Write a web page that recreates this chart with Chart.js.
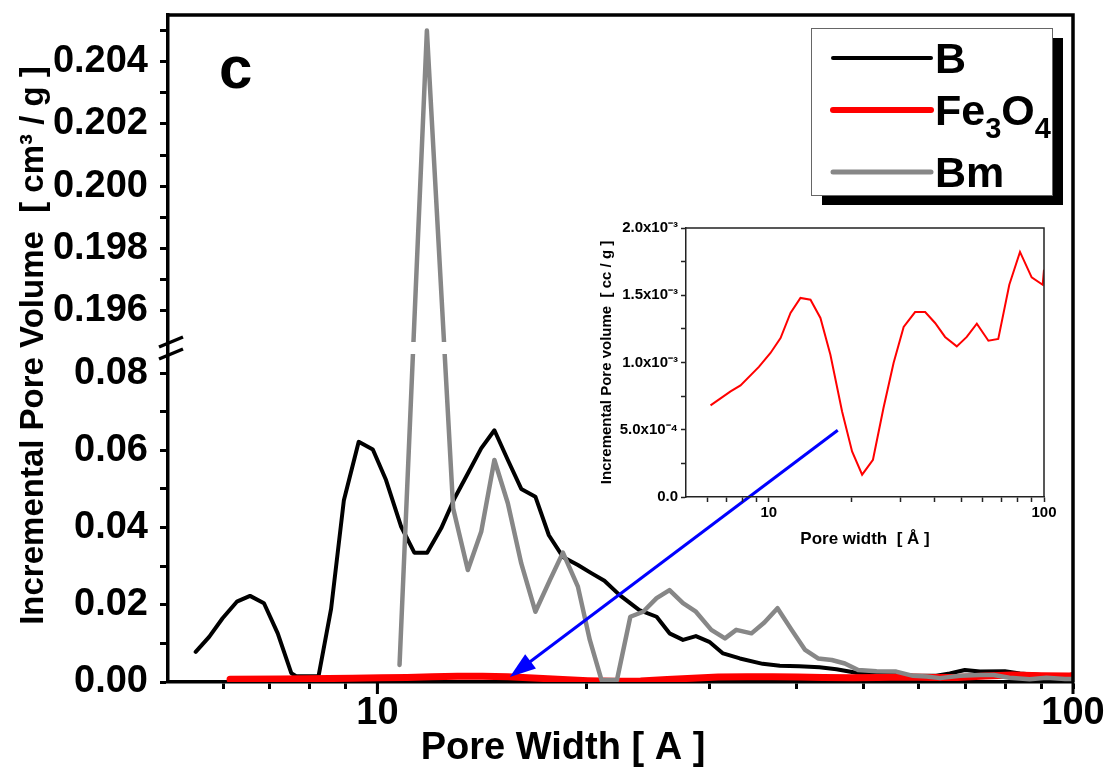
<!DOCTYPE html>
<html>
<head>
<meta charset="utf-8">
<script src="https://cdn.jsdelivr.net/npm/chart.js@4.4.1/dist/chart.umd.min.js"></script>
<style>
  html, body { margin: 0; padding: 0; background: #fff; }
  #wrap { position: relative; width: 1115px; height: 767px; }
  #mainBox { position: absolute; left: 0; top: 0; width: 1115px; height: 767px; }
  #insetBox { position: absolute; left: 590px; top: 215px; width: 480px; height: 345px; }
</style>
</head>
<body>
<div id="wrap">
  <div id="mainBox"><canvas id="main"></canvas></div>
  <div id="insetBox"><canvas id="inset"></canvas></div>
</div>
<script>
// pore widths (A) and incremental pore volumes (cm3/g)
const widthB = [5.48, 5.73, 5.99, 6.28, 6.56, 6.87, 7.19, 7.52, 7.64, 8.23, 8.58, 8.95, 9.40, 9.85, 10.29, 10.82, 11.30, 11.79, 12.35, 12.91,
  13.49, 14.10, 14.73, 15.40, 16.10, 16.87, 17.64, 18.48, 19.42, 20.3, 21.2, 22.3, 23.8, 25.2, 26.3, 27.5, 28.7, 30.0, 31.4, 33.2,
  35.8, 37.9, 40.4, 43.2, 45.7, 48.8, 52.2, 55.1, 58.9, 63.6, 66.5, 69.9, 73.5, 79.8, 83.9, 89.7, 97.4, 100];
const volB = [0.0078, 0.0117, 0.0165, 0.0208, 0.0223, 0.0204, 0.0126, 0.0023, 0.0015, 0.0015, 0.019, 0.0471, 0.0622, 0.0602, 0.0523, 0.0402, 0.0335, 0.0335, 0.0398, 0.0476,
  0.054, 0.0605, 0.0652, 0.0575, 0.050, 0.048, 0.038, 0.0324, 0.0303, 0.0282, 0.0262, 0.0225, 0.0186, 0.0169, 0.0126, 0.0109, 0.0119, 0.0104, 0.0074, 0.0061,
  0.0047, 0.0042, 0.0041, 0.0038, 0.0033, 0.0024, 0.0022, 0.0021, 0.0016, 0.0016, 0.0022, 0.0031, 0.0027, 0.0028, 0.0022, 0.0018, 0.0016, 0.0015];

const widthBm = [10.76, 11.78, 12.85, 13.49, 14.10, 14.73, 15.40, 16.10, 16.87, 17.7, 18.48, 19.42, 20.2, 21.0, 22.1, 23.1, 24.1, 25.2, 26.3, 27.5,
  28.7, 30.2, 31.6, 32.8, 34.5, 36.0, 37.6, 39.4, 41.2, 43.0, 45.0, 47.0, 49.1, 52.2, 55.7, 58.9, 61.6, 64.4, 68.8, 73.5,
  76.9, 81.0, 86.6, 91.6, 97.4, 100];
const volBm = [0.0044, 0.2050, 0.0450, 0.029, 0.0389, 0.0575, 0.0463, 0.0307, 0.0182, 0.0264, 0.0335, 0.0247, 0.0109, 0.0005, 0.0005, 0.0169, 0.0182, 0.0217, 0.0238, 0.0204,
  0.0182, 0.0135, 0.0113, 0.0135, 0.0126, 0.0154, 0.0191, 0.0135, 0.0083, 0.0061, 0.0057, 0.0048, 0.0031, 0.0028, 0.0027, 0.0016, 0.0014, 0.0010, 0.0016, 0.0018,
  0.0018, 0.0011, 0.0007, 0.0011, 0.0008, 0.0008];

const widthFe = [6.14, 7.26, 7.89, 9.20, 10.14, 11.03, 11.99, 13.03, 14.17, 15.40, 16.74, 18.46, 20.07, 21.83, 23.9, 26.1, 28.4, 30.9, 34.0, 37.0,
  40.2, 43.7, 48.2, 52.4, 57.0, 62.8, 68.2, 74.8, 81.8, 90.2, 98.9, 100];
const volFe = [0.681e-3, 0.785e-3, 0.830e-3, 0.967e-3, 1.071e-3, 1.182e-3, 1.368e-3, 1.480e-3, 1.467e-3, 1.331e-3, 1.058e-3, 0.636e-3, 0.339e-3, 0.166e-3, 0.277e-3, 0.662e-3, 0.996e-3, 1.264e-3, 1.375e-3, 1.375e-3,
  1.294e-3, 1.190e-3, 1.120e-3, 1.190e-3, 1.288e-3, 1.162e-3, 1.175e-3, 1.578e-3, 1.822e-3, 1.633e-3, 1.578e-3, 1.690e-3];

// ticks and labels
const xTicks = [6, 7, 8, 9, 10, 20, 30, 40, 50, 60, 70, 80, 90, 100];
const xLabels = ['', '', '', '', '10', '', '', '', '', '', '', '', '', '100'];
const yLowTicks = [0, 0.01, 0.02, 0.03, 0.04, 0.05, 0.06, 0.07, 0.08];
const yLowLabels = ['0.00', '', '0.02', '', '0.04', '', '0.06', '', '0.08'];
const yHighTicks = [0.196, 0.197, 0.198, 0.199, 0.200, 0.201, 0.202, 0.203, 0.204, 0.205];
const yHighLabels = ['0.196', '', '0.198', '', '0.200', '', '0.202', '', '0.204', ''];
const insetYTicks = [0, 0.00025, 0.0005, 0.00075, 0.001, 0.00125, 0.0015, 0.00175, 0.002];
const insetYLabels = ['0.0', '', '5.0x10⁻⁴', '', '1.0x10⁻³', '', '1.5x10⁻³', '', '2.0x10⁻³'];

// broken y axis: 0 .. 0.0865 in the lower half, 0.1948 .. 0.2055 in the upper half
const yBreak = { min: 0, lowMax: 0.0865, highMin: 0.1948, max: 0.2055, lowShare: 334 / 667 };

// arrow from the inset down to the Fe3O4 curve (in main chart data units)
const arrowFrom = [45.9, 0.0652];
const arrowTo = [15.5, 0.0013];

const FONT = "'Liberation Sans', Arial, Helvetica, sans-serif";
Chart.defaults.font.family = FONT;
Chart.defaults.color = '#000';

// linear scale with an axis break; straight segments are drawn between mapped points
class BrokenLinearScale extends Chart.LinearScale {
  splitPixel() {
    return this.bottom - (this.bottom - this.top) * yBreak.lowShare;
  }
  getPixelForValue(value) {
    const split = this.splitPixel();
    if (value <= yBreak.lowMax) {
      return this.bottom - (value - yBreak.min) / (yBreak.lowMax - yBreak.min) * (this.bottom - split);
    }
    const v = Math.max(value, yBreak.highMin);
    return split - (v - yBreak.highMin) / (yBreak.max - yBreak.highMin) * (split - this.top);
  }
  getValueForPixel(pixel) {
    const split = this.splitPixel();
    if (pixel >= split) {
      return yBreak.min + (this.bottom - pixel) / (this.bottom - split) * (yBreak.lowMax - yBreak.min);
    }
    return yBreak.highMin + (split - pixel) / (split - this.top) * (yBreak.max - yBreak.highMin);
  }
}
BrokenLinearScale.id = 'brokenLinear';
BrokenLinearScale.defaults = Chart.LinearScale.defaults;
Chart.register(BrokenLinearScale);

function pts(xs, ys) {
  return xs.map((x, i) => ({ x: x, y: ys[i] }));
}

// draws text where unicode subscript digits are drawn smaller and lowered
function drawRich(ctx, text, x, y, size) {
  for (const ch of text) {
    const code = ch.codePointAt(0);
    if (code >= 0x2080 && code <= 0x2089) {
      const d = String(code - 0x2080);
      ctx.font = 'bold ' + Math.round(size * 0.68) + 'px ' + FONT;
      ctx.fillText(d, x, y + size * 0.3);
      x += ctx.measureText(d).width;
    } else {
      ctx.font = 'bold ' + size + 'px ' + FONT;
      ctx.fillText(ch, x, y);
      x += ctx.measureText(ch).width;
    }
  }
}

const mainDeco = {
  id: 'mainDeco',
  beforeDatasetDraw(chart) {
    // leave a small gap in the curves where the axis is broken
    const a = chart.chartArea;
    const split = chart.scales.y.splitPixel();
    const ctx = chart.ctx;
    ctx.save();
    ctx.beginPath();
    ctx.rect(a.left, a.top - 8, a.right - a.left, split - 6 - (a.top - 8));
    ctx.rect(a.left, split + 6, a.right - a.left, a.bottom + 8 - (split + 6));
    ctx.clip();
  },
  afterDatasetDraw(chart) {
    chart.ctx.restore();
  },
  afterDraw(chart) {
    const ctx = chart.ctx;
    const a = chart.chartArea;
    const xs = chart.scales.x;
    const ys = chart.scales.y;
    ctx.save();

    // top and right frame
    ctx.strokeStyle = '#000';
    ctx.lineWidth = 3.5;
    ctx.beginPath();
    ctx.moveTo(a.left - 1.5, a.top);
    ctx.lineTo(a.right, a.top);
    ctx.lineTo(a.right, a.bottom);
    ctx.stroke();

    // longer major ticks on x
    ctx.lineWidth = 3;
    ctx.beginPath();
    [10, 100].forEach(v => {
      const px = xs.getPixelForValue(v);
      ctx.moveTo(px, a.bottom);
      ctx.lineTo(px, a.bottom + 12);
    });
    ctx.stroke();

    // axis break marks
    const yb = ys.splitPixel();
    ctx.lineWidth = 3.5;
    ctx.beginPath();
    [-6, 6].forEach(d => {
      ctx.moveTo(a.left - 9, yb + d + 5);
      ctx.lineTo(a.left + 15, yb + d - 5);
    });
    ctx.stroke();

    // axis titles
    ctx.fillStyle = '#000';
    ctx.save();
    ctx.translate(34, (a.top + a.bottom) / 2 - 3);
    ctx.rotate(-Math.PI / 2);
    ctx.textAlign = 'center';
    ctx.textBaseline = 'middle';
    ctx.font = 'bold 33px ' + FONT;
    ctx.fillText('Incremental Pore Volume  [ cm³ / g ]', 0, 0);
    ctx.restore();

    ctx.textAlign = 'center';
    ctx.textBaseline = 'alphabetic';
    ctx.font = 'bold 38px ' + FONT;
    ctx.fillText('Pore Width [ A ]', 563, 759);

    // panel letter
    ctx.textAlign = 'left';
    ctx.font = 'bold 60px ' + FONT;
    ctx.fillText('c', 219, 88);

    // legend box with shadow
    const lg = { x: 811, y: 28, w: 241, h: 167 };
    ctx.fillStyle = '#000';
    ctx.fillRect(lg.x + 11, lg.y + 10, lg.w, lg.h);
    ctx.fillStyle = '#fff';
    ctx.fillRect(lg.x, lg.y, lg.w, lg.h);
    ctx.strokeStyle = '#666';
    ctx.lineWidth = 1;
    ctx.strokeRect(lg.x + 0.5, lg.y + 0.5, lg.w, lg.h);
    const rows = [58, 110, 172];
    chart.data.datasets.forEach((d, i) => {
      ctx.strokeStyle = d.borderColor;
      ctx.lineWidth = d.legendWidth;
      ctx.lineCap = 'round';
      ctx.beginPath();
      ctx.moveTo(833, rows[i]);
      ctx.lineTo(931, rows[i]);
      ctx.stroke();
      ctx.fillStyle = '#000';
      ctx.textBaseline = 'alphabetic';
      drawRich(ctx, d.label, 935, rows[i] + 15, 43);
    });

    // arrow
    const x0 = xs.getPixelForValue(arrowFrom[0]), y0 = ys.getPixelForValue(arrowFrom[1]);
    const x1 = xs.getPixelForValue(arrowTo[0]), y1 = ys.getPixelForValue(arrowTo[1]);
    const ang = Math.atan2(y1 - y0, x1 - x0);
    const hl = 26, hw = 9;
    ctx.strokeStyle = '#0000ff';
    ctx.fillStyle = '#0000ff';
    ctx.lineWidth = 3;
    ctx.lineCap = 'butt';
    ctx.beginPath();
    ctx.moveTo(x0, y0);
    ctx.lineTo(x1 - Math.cos(ang) * hl * 0.8, y1 - Math.sin(ang) * hl * 0.8);
    ctx.stroke();
    ctx.beginPath();
    ctx.moveTo(x1, y1);
    ctx.lineTo(x1 - Math.cos(ang) * hl - Math.sin(ang) * hw, y1 - Math.sin(ang) * hl + Math.cos(ang) * hw);
    ctx.lineTo(x1 - Math.cos(ang) * hl + Math.sin(ang) * hw, y1 - Math.sin(ang) * hl - Math.cos(ang) * hw);
    ctx.closePath();
    ctx.fill();

    ctx.restore();
  }
};

const mainGrid = { drawOnChartArea: false, drawTicks: true, tickLength: 8, tickWidth: 3, tickColor: '#000' };
const mainBorder = { display: true, color: '#000', width: 3.5 };

window.mainChart = new Chart(document.getElementById('main'), {
  type: 'line',
  data: {
    datasets: [
      { label: 'B', data: pts(widthB, volB), borderColor: '#000000', borderWidth: 4, legendWidth: 4, order: 3 },
      { label: 'Fe₃O₄', data: pts(widthFe, volFe), borderColor: '#ff0000', borderWidth: 7, legendWidth: 6, order: 2 },
      { label: 'Bm', data: pts(widthBm, volBm), borderColor: '#878787', borderWidth: 4.5, legendWidth: 5, order: 1 }
    ]
  },
  options: {
    responsive: true,
    maintainAspectRatio: false,
    animation: false,
    layout: { padding: { top: 15, right: 42, left: 0, bottom: 0 } },
    elements: {
      point: { radius: 0 },
      line: { tension: 0, borderJoinStyle: 'round', borderCapStyle: 'round', fill: false }
    },
    plugins: { legend: { display: false }, tooltip: { enabled: false } },
    scales: {
      x: {
        type: 'logarithmic',
        min: 5,
        max: 100,
        afterBuildTicks: s => { s.ticks = xTicks.map(v => ({ value: v })); },
        afterFit: s => { s.height = 85; },
        ticks: { autoSkip: false, maxRotation: 0, padding: 2, font: { size: 38, weight: 'bold' }, callback: (v, i) => xLabels[i] },
        grid: Object.assign({}, mainGrid, { tickLength: 7 }),
        border: mainBorder
      },
      y: {
        type: 'brokenLinear',
        position: 'left',
        min: yBreak.min,
        max: yBreak.max,
        afterBuildTicks: s => { s.ticks = yLowTicks.concat(yHighTicks).map(v => ({ value: v })); },
        afterFit: s => { s.width = 168; s.paddingTop = 0; s.paddingBottom = 0; },
        ticks: { autoSkip: false, padding: 12, font: { size: 38, weight: 'bold' }, callback: (v, i) => yLowLabels.concat(yHighLabels)[i] },
        grid: mainGrid,
        border: mainBorder
      }
    }
  },
  plugins: [mainDeco]
});

// inset: Fe3O4 alone on its own scale
const insetFrame = {
  id: 'insetFrame',
  afterDraw(chart) {
    const ctx = chart.ctx;
    const a = chart.chartArea;
    ctx.save();
    ctx.strokeStyle = '#222';
    ctx.lineWidth = 1.5;
    ctx.beginPath();
    ctx.moveTo(a.left, a.top);
    ctx.lineTo(a.right, a.top);
    ctx.lineTo(a.right, a.bottom);
    ctx.stroke();
    ctx.restore();
  }
};

const insetGrid = { drawOnChartArea: false, drawTicks: true, tickLength: 5, tickWidth: 1.5, tickColor: '#222' };
const insetBorder = { display: true, color: '#222', width: 1.5 };

window.insetChart = new Chart(document.getElementById('inset'), {
  type: 'line',
  data: {
    datasets: [
      { label: 'Fe₃O₄', data: pts(widthFe, volFe), borderColor: '#ff0000', borderWidth: 2 }
    ]
  },
  options: {
    responsive: true,
    maintainAspectRatio: false,
    animation: false,
    layout: { padding: { top: 13, right: 26, left: 0, bottom: 0 } },
    elements: {
      point: { radius: 0 },
      line: { tension: 0, fill: false }
    },
    plugins: { legend: { display: false }, tooltip: { enabled: false } },
    scales: {
      x: {
        type: 'logarithmic',
        min: 5,
        max: 100,
        afterBuildTicks: s => { s.ticks = xTicks.map(v => ({ value: v })); },
        afterFit: s => { s.height = 63; },
        ticks: { autoSkip: false, maxRotation: 0, padding: 2, font: { size: 15, weight: 'bold' }, callback: (v, i) => xLabels[i] },
        grid: insetGrid,
        border: insetBorder,
        title: { display: true, text: 'Pore width  [ Å ]', font: { size: 17, weight: 'bold' }, padding: { top: 4, bottom: 10 } }
      },
      y: {
        type: 'linear',
        min: 0,
        max: 0.002,
        afterBuildTicks: s => { s.ticks = insetYTicks.map(v => ({ value: v })); },
        afterFit: s => { s.width = 96; },
        ticks: { autoSkip: false, padding: 3, font: { size: 15, weight: 'bold' }, callback: (v, i) => insetYLabels[i] },
        grid: insetGrid,
        border: insetBorder,
        title: { display: true, text: 'Incremental Pore volume  [ cc / g ]', font: { size: 15, weight: 'bold' }, padding: { top: 8, bottom: 4 } }
      }
    }
  },
  plugins: [insetFrame]
});
</script>
</body>
</html>
